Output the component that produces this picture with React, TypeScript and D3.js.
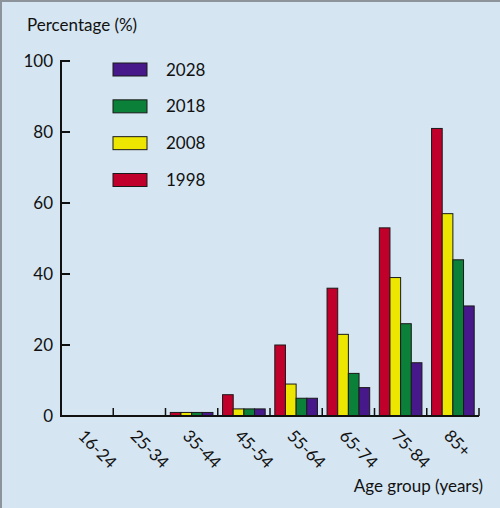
import React from "react";
import * as d3 from "d3";

const categories = ["16-24", "25-34", "35-44", "45-54", "55-64", "65-74", "75-84", "85+"];
const years = ["1998", "2008", "2018", "2028"];
const values1998 = [0, 0, 1, 6, 20, 36, 53, 81];
const values2008 = [0, 0, 1, 2, 9, 23, 39, 57];
const values2018 = [0, 0, 1, 2, 5, 12, 26, 44];
const values2028 = [0, 0, 1, 2, 5, 8, 15, 31];
const yTicks = [0, 20, 40, 60, 80, 100];
const colors = ["#c0002a", "#ece600", "#0a8038", "#46188a"];
const legendOrder = ["2028", "2018", "2008", "1998"];

const W = 500;
const H = 508;
const FONT = "Lato, 'Open Sans', sans-serif";

export default function App() {
  const series = [values1998, values2008, values2018, values2028];
  const x0 = 61;
  const x1 = 479;
  const yTop = 61;
  const yBot = 416;
  const x = d3.scaleBand<string>().domain(categories).range([x0, x1]).paddingInner(0).paddingOuter(0);
  const xi = d3.scaleBand<string>().domain(years).range([0, x.bandwidth()]).paddingInner(0).paddingOuter(0.45);
  const y = d3.scaleLinear().domain([0, 100]).range([yBot, yTop]);
  const legendY = d3.scalePoint<string>().domain(legendOrder).range([69.5, 180]);

  return (
    <svg width={W} height={H} style={{ position: "absolute", left: 0, top: 0 }} fontFamily={FONT}>
      <rect x={0} y={0} width={W} height={H} fill="#d5e5f1" />
      <line x1={1} y1={0} x2={1} y2={H} stroke="#8c939b" strokeWidth={2} />
      <line x1={0} y1={1} x2={W} y2={1} stroke="#8c939b" strokeWidth={2} />

      <text x={27} y={31} fontSize={17} fill="#111">Percentage (%)</text>

      {/* bars */}
      {categories.map((c, ci) =>
        series.map((s, si) => {
          const v = s[ci];
          if (v <= 0) return null;
          const bx = (x(c) as number) + (xi(years[si]) as number);
          return (
            <rect
              key={c + si}
              x={bx}
              y={y(v)}
              width={xi.bandwidth()}
              height={yBot - y(v)}
              fill={colors[si]}
              stroke="#1a1a1a"
              strokeWidth={1}
            />
          );
        })
      )}

      {/* y axis */}
      <line x1={x0} y1={yTop - 1} x2={x0} y2={yBot + 1} stroke="#111" strokeWidth={2} />
      {yTicks.map((t) => (
        <g key={t}>
          {t > 0 && <line x1={x0} y1={y(t)} x2={x0 + 9} y2={y(t)} stroke="#111" strokeWidth={2} />}
          <text x={53} y={y(t)} dy="0.36em" textAnchor="end" fontSize={17} fill="#111">{t}</text>
        </g>
      ))}

      {/* x axis */}
      <line x1={x0 - 1} y1={yBot} x2={x1} y2={yBot} stroke="#111" strokeWidth={2} />
      {categories.map((c) => {
        const tx = (x(c) as number) + x.bandwidth();
        return <line key={"t" + c} x1={tx} y1={yBot} x2={tx} y2={yBot - 8} stroke="#111" strokeWidth={1.5} />;
      })}
      {categories.map((c) => {
        const cx = (x(c) as number) + x.bandwidth() / 2;
        return (
          <text key={"l" + c} transform={`translate(${cx - 10},${437}) rotate(45)`} fontSize={17} fill="#111">
            {c}
          </text>
        );
      })}
      <text x={483} y={492} textAnchor="end" fontSize={17} fill="#111">Age group (years)</text>

      {/* legend */}
      {legendOrder.map((yr) => {
        const idx = years.indexOf(yr);
        const ly = legendY(yr) as number;
        return (
          <g key={yr}>
            <rect x={113} y={ly - 6.5} width={34} height={13} fill={colors[idx]} stroke="#1a1a1a" strokeWidth={1} />
            <text x={166} y={ly} dy="0.36em" fontSize={17} fill="#111">{yr}</text>
          </g>
        );
      })}
    </svg>
  );
}
